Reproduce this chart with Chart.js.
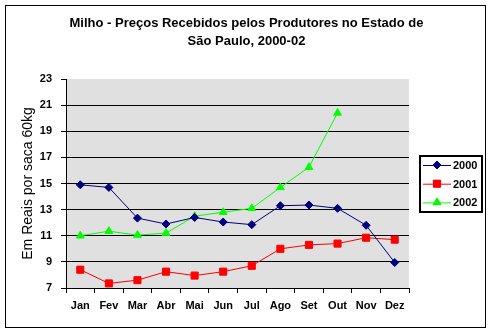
<!DOCTYPE html>
<html>
<head>
<meta charset="utf-8">
<script src="https://cdn.jsdelivr.net/npm/chart.js@4"></script>
<style>
  body { margin: 0; background: #fff; }
  #wrap { width: 493px; height: 334px; }
</style>
</head>
<body>
<div id="wrap"><canvas id="milho-chart" width="493" height="334"></canvas></div>
<script>
var months = ['Jan', 'Fev', 'Mar', 'Abr', 'Mai', 'Jun', 'Jul', 'Ago', 'Set', 'Out', 'Nov', 'Dez'];

var prices2000 = [14.9, 14.7, 12.35, 11.9, 12.4, 12.05, 11.85, 13.3, 13.35, 13.1, 11.8, 8.95];
var prices2001 = [8.4, 7.35, 7.6, 8.25, 7.95, 8.25, 8.7, 10.0, 10.3, 10.4, 10.85, 10.7];
var prices2002 = [11.0, 11.35, 11.05, 11.2, 12.5, 12.8, 13.1, 14.7, 16.25, 20.4, null, null];

var yTicks = [7, 9, 11, 13, 15, 17, 19, 21, 23];

var FONT = "'Liberation Sans', Arial, sans-serif";

// white page, thin black frame and grey plot area behind the lines
var framePlugin = {
	id: 'frame',
	beforeDraw: function(chart) {
		var ctx = chart.ctx;
		var a = chart.chartArea;
		ctx.save();
		ctx.fillStyle = '#ffffff';
		ctx.fillRect(0, 0, chart.width, chart.height);
		ctx.strokeStyle = '#000000';
		ctx.lineWidth = 1;
		ctx.strokeRect(5.5, 5.5, 480, 322);
		ctx.fillStyle = '#e0e0e0';
		ctx.fillRect(a.left, a.top, a.right - a.left, a.bottom - a.top);
		ctx.restore();
	}
};

// boxed legend on the right, built from the datasets
var boxLegend = {
	id: 'boxLegend',
	afterDraw: function(chart) {
		var ctx = chart.ctx;
		var x = 419, y = 155, w = 64, h = 58;
		ctx.save();
		ctx.fillStyle = '#ffffff';
		ctx.fillRect(x, y, w, h);
		ctx.strokeStyle = '#000000';
		ctx.lineWidth = 2;
		ctx.strokeRect(x + 1, y + 1, w - 2, h - 2);
		ctx.font = 'bold 11px ' + FONT;
		ctx.textBaseline = 'middle';
		chart.data.datasets.forEach(function(ds, i) {
			var ry = 165 + i * 18.7;
			ctx.strokeStyle = ds.borderColor;
			ctx.lineWidth = 1;
			ctx.beginPath();
			ctx.moveTo(423, ry + 0.5);
			ctx.lineTo(451, ry + 0.5);
			ctx.stroke();
			Chart.helpers.drawPoint(ctx, {
				pointStyle: ds.pointStyle,
				radius: ds.pointRadius,
				borderWidth: 1,
				rotation: 0
			}, 437, ry);
			ctx.fillStyle = ds.borderColor;
			ctx.fill();
			ctx.fillStyle = '#000000';
			ctx.fillText(ds.label, 453, ry + 1);
		});
		ctx.restore();
	}
};

function series(label, values, color, style, radius) {
	return {
		label: label,
		data: values,
		borderColor: color,
		backgroundColor: color,
		borderWidth: 1,
		pointStyle: style,
		pointRadius: radius,
		pointHoverRadius: radius,
		pointBorderWidth: 1,
		tension: 0,
		spanGaps: false
	};
}

var ctx = document.getElementById('milho-chart');
var chart = new Chart(ctx, {
	type: 'line',
	data: {
		labels: months,
		datasets: [
			series('2000', prices2000, '#000080', 'rectRot', 4),
			series('2001', prices2001, '#ff0000', 'rect', 5),
			series('2002', prices2002, '#00ff00', 'triangle', 4.5)
		]
	},
	options: {
		responsive: false,
		animation: false,
		events: [],
		layout: { padding: { left: 16, right: 16, top: 0, bottom: 18 } },
		plugins: {
			legend: { display: false },
			tooltip: { enabled: false },
			title: {
				display: true,
				text: ['Milho - Preços Recebidos pelos Produtores no Estado de', 'São Paulo, 2000-02'],
				color: '#000000',
				font: { family: FONT, size: 13, weight: 'bold', lineHeight: 1.385 },
				padding: { top: 14, bottom: 29 }
			}
		},
		scales: {
			x: {
				offset: true,
				afterFit: function(scale) { scale.height = 28; },
				border: { color: '#000000', width: 1 },
				grid: {
					offset: true,
					drawOnChartArea: false,
					tickLength: 5,
					tickColor: '#000000'
				},
				ticks: {
					color: '#000000',
					padding: 6,
					maxRotation: 0,
					autoSkip: false,
					font: { family: FONT, size: 11, weight: 'bold' }
				}
			},
			y: {
				min: 7,
				max: 23,
				afterFit: function(scale) { scale.width = 50; },
				afterBuildTicks: function(scale) {
					scale.ticks = yTicks.map(function(v) { return { value: v }; });
				},
				border: { color: '#000000', width: 1 },
				grid: {
					color: function(c) {
						return (c.tick && (c.tick.value === 7 || c.tick.value === 23)) ? 'rgba(0,0,0,0)' : '#000000';
					},
					tickColor: '#000000',
					tickLength: 5
				},
				ticks: {
					color: '#000000',
					padding: 9,
					font: { family: FONT, size: 11, weight: 'bold' }
				},
				title: {
					display: true,
					text: 'Em Reais por saca 60kg',
					color: '#000000',
					font: { family: FONT, size: 14 },
					padding: { top: 4, bottom: 0 }
				}
			},
			// empty right-hand axis: reserves the space where the legend sits
			side: {
				type: 'linear',
				axis: 'y',
				position: 'right',
				afterFit: function(scale) { scale.width = 68; },
				grid: { display: false },
				border: { display: false },
				ticks: { display: false }
			}
		}
	},
	plugins: [framePlugin, boxLegend]
});
</script>
</body>
</html>
